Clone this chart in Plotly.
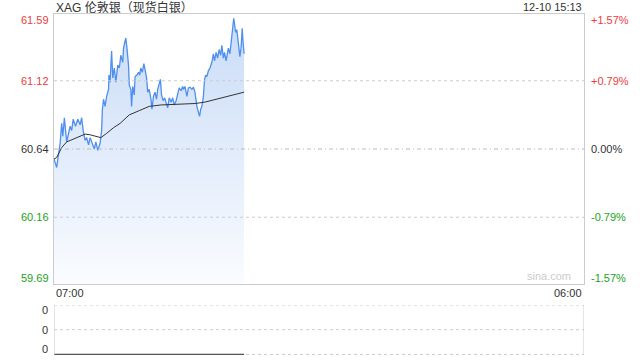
import plotly.graph_objects as go

# ---------------- data ----------------
title_text = "XAG 伦敦银（现货白银）"
stamp_text = "12-10 15:13"
prev_close = 60.64

# minutes since 07:00
price_t = [0, 3, 7, 11, 16, 20, 23, 27, 30, 33, 37, 42, 46, 50, 56, 62, 68, 72, 76, 81,
           85, 90, 94, 98, 105, 109, 114, 120, 124, 126, 129, 133, 137, 142, 143, 146, 148, 150, 153, 157,
           161, 166, 170, 174, 179, 181, 185, 187, 190, 194, 196, 200, 202, 205, 209, 211, 216, 220, 223, 226,
           230, 234, 237, 241, 244, 248, 253, 255, 259, 263, 267, 270, 274, 277, 280, 284, 288, 292, 296, 300,
           305, 309, 313, 318, 322, 326, 331, 335, 337, 341, 346, 350, 354, 359, 363, 367, 372, 376, 379, 382,
           385, 389, 392, 395, 398, 402, 406, 411, 415, 418, 422, 426, 430, 434, 437, 441, 444, 448, 452, 454,
           458, 463, 465, 468, 470, 473, 476, 480, 484, 487, 490, 492, 495]
price_v = [60.57, 60.55, 60.51, 60.59, 60.68, 60.82, 60.73, 60.86, 60.77, 60.69, 60.74, 60.80, 60.77, 60.85, 60.80, 60.85, 60.81, 60.86, 60.77, 60.70,
           60.72, 60.67, 60.72, 60.69, 60.64, 60.69, 60.63, 60.68, 60.77, 60.92, 60.99, 60.94, 61.01, 61.06, 61.16, 61.11, 61.21, 61.33, 61.14, 61.21,
           61.11, 61.23, 61.21, 61.30, 61.25, 61.35, 61.40, 61.42, 61.35, 61.23, 61.09, 61.06, 60.94, 61.08, 61.02, 61.15, 61.16, 61.18, 61.16, 61.21,
           61.18, 61.24, 61.20, 61.14, 61.04, 61.06, 60.98, 60.92, 61.01, 61.04, 60.99, 61.06, 61.10, 61.13, 61.02, 60.98, 61.00, 60.97, 60.93, 61.00,
           60.97, 61.00, 60.95, 60.98, 61.04, 61.07, 61.05, 61.08, 61.06, 61.08, 61.01, 61.07, 61.075, 61.06, 61.075, 61.04, 60.94, 60.89, 60.87, 60.92,
           60.94, 61.01, 61.13, 61.16, 61.15, 61.19, 61.21, 61.25, 61.31, 61.26, 61.32, 61.28, 61.34, 61.30, 61.37, 61.28, 61.32, 61.26, 61.32, 61.35,
           61.31, 61.42, 61.49, 61.56, 61.52, 61.46, 61.48, 61.40, 61.29, 61.35, 61.49, 61.40, 61.31]

avg_t = [0, 7, 20, 33, 42, 60, 68, 81, 94, 107, 122, 137, 155, 172, 196, 222, 248, 279, 309, 343, 367, 393, 428, 462, 495]
avg_v = [60.57, 60.58, 60.65, 60.69, 60.70, 60.72, 60.73, 60.745, 60.74, 60.73, 60.72, 60.75, 60.79, 60.82, 60.88,
         60.91, 60.94, 60.95, 60.955, 60.96, 60.96, 60.97, 60.995, 61.02, 61.04]

vol_t = [0, 495]
vol_v = [0, 0]

price_ticks = [61.59, 61.12, 60.64, 60.16, 59.69]
price_labels = ["61.59", "61.12", "60.64", "60.16", "59.69"]
pct_labels = ["+1.57%", "+0.79%", "0.00%", "-0.79%", "-1.57%"]
tick_colors = ["#f03c3c", "#f03c3c", "#333333", "#1aa31a", "#1aa31a"]

time_ticks = [0, 1380]
time_labels = ["07:00", "06:00"]

vol_ticks = [1, 0.5, 0]
vol_labels = ["0", "0", "0"]

# ---------------- figure ----------------
FONT = "Arial, Liberation Sans, Noto Sans CJK SC, sans-serif"
X0, X1 = 54 / 640, 584 / 640
Y_MAIN = [1 - 284 / 360, 1 - 14 / 360]
Y_VOL = [1 - 355 / 360, 1 - 305 / 360]

fig = go.Figure()

fig.add_trace(go.Scatter(
    x=price_t, y=price_v, mode="lines",
    line=dict(color="#4f8ff0", width=1.3),
    fill="tozeroy",
    fillgradient=dict(type="vertical", start=price_ticks[-1], stop=price_ticks[0],
                      colorscale=[[0, "rgb(250,252,255)"], [1, "rgb(200,219,247)"]]),
    xaxis="x", yaxis="y", hoverinfo="skip", showlegend=False))

fig.add_trace(go.Scatter(
    x=avg_t, y=avg_v, mode="lines",
    line=dict(color="#333333", width=1),
    xaxis="x", yaxis="y", hoverinfo="skip", showlegend=False))

fig.add_trace(go.Scatter(
    x=vol_t, y=vol_v, mode="lines",
    line=dict(color="#555555", width=1.5),
    xaxis="x2", yaxis="y2", hoverinfo="skip", showlegend=False))

fig.update_layout(
    width=640, height=360,
    margin=dict(l=0, r=0, t=0, b=0),
    paper_bgcolor="white", plot_bgcolor="rgba(0,0,0,0)",
    font=dict(family=FONT, size=11, color="#333333"),
    xaxis=dict(domain=[X0, X1], range=[0, 1380], showgrid=False, zeroline=False,
               showticklabels=False, showline=True, mirror=True, linecolor="#cccccc", linewidth=1,
               anchor="y", fixedrange=True),
    yaxis=dict(domain=Y_MAIN, range=[price_ticks[-1], price_ticks[0]], showgrid=False, zeroline=False,
               showticklabels=False, showline=True, mirror=True, linecolor="#cccccc", linewidth=1,
               anchor="x", fixedrange=True),
    xaxis2=dict(domain=[X0, X1], range=[0, 1380], showgrid=False, zeroline=False,
                showticklabels=False, showline=False, anchor="y2", fixedrange=True),
    yaxis2=dict(domain=Y_VOL, range=[-0.012, 1], showgrid=False, zeroline=False,
                showticklabels=False, showline=False, anchor="x2", fixedrange=True),
)

shapes = []
# main grid lines
for v in price_ticks[1:-1]:
    mid = abs(v - prev_close) < 1e-9
    shapes.append(dict(type="line", xref="x", yref="y", x0=0, x1=1380, y0=v, y1=v,
                       line=dict(color="#bbbbbb" if mid else "#cccccc", width=1,
                                 dash="4px,3px,1px,3px" if mid else "dot"), layer="above"))
# volume panel frame
shapes.append(dict(type="line", xref="x2", yref="y2 domain", x0=0, x1=0, y0=0, y1=1,
                   line=dict(color="#cccccc", width=1)))
shapes.append(dict(type="line", xref="x2", yref="y2 domain", x0=1380, x1=1380, y0=0, y1=1,
                   line=dict(color="#cccccc", width=1)))
for v in vol_ticks:
    shapes.append(dict(type="line", xref="x2", yref="y2", x0=0, x1=1380, y0=v, y1=v,
                       line=dict(color="#cccccc", width=1, dash="dot"), layer="below"))
fig.update_layout(shapes=shapes)

ann = []
ann.append(dict(text=title_text, xref="paper", yref="paper", x=X0, y=1 - 7 / 360,
                xanchor="left", yanchor="middle", showarrow=False,
                font=dict(size=12, color="#333333")))
ann.append(dict(text=stamp_text, xref="paper", yref="paper", x=X1, y=1 - 7 / 360,
                xanchor="right", yanchor="middle", showarrow=False,
                font=dict(size=11, color="#333333")))
n = len(price_ticks)
for i, (v, lab, pl, c) in enumerate(zip(price_ticks, price_labels, pct_labels, tick_colors)):
    ya = "top" if i == 0 else ("bottom" if i == n - 1 else "middle")
    ys = 2 if i == 0 else (-2 if i == n - 1 else 0)
    ann.append(dict(text=lab, xref="paper", yref="y", x=X0 - 3 / 640, y=v, yshift=ys,
                    xanchor="right", yanchor=ya, showarrow=False, font=dict(size=11, color=c)))
    ann.append(dict(text=pl, xref="paper", yref="y", x=X1 + 5 / 640, y=v, yshift=ys,
                    xanchor="left", yanchor=ya, showarrow=False, font=dict(size=11, color=c)))
for t, lab, xa in zip(time_ticks, time_labels, ["left", "right"]):
    ann.append(dict(text=lab, xref="x", yref="paper", x=t, y=1 - 293 / 360,
                    xanchor=xa, yanchor="middle", showarrow=False,
                    font=dict(size=11, color="#333333")))
nv = len(vol_ticks)
for i, (v, lab) in enumerate(zip(vol_ticks, vol_labels)):
    ya = "top" if i == 0 else ("bottom" if i == nv - 1 else "middle")
    ys = 3 if i == 0 else (-3 if i == nv - 1 else 0)
    ann.append(dict(text=lab, xref="paper", yref="y2", x=X0 - 4 / 640, y=v, yshift=ys,
                    xanchor="right", yanchor=ya, showarrow=False,
                    font=dict(size=11, color="#333333")))
ann.append(dict(text="sina.com", xref="paper", yref="y", x=X1 - 11 / 640, y=price_ticks[-1],
                xanchor="right", yanchor="bottom", showarrow=False,
                font=dict(size=11, color="#cccccc")))
fig.update_layout(annotations=ann)

fig.write_html("out.html", config={"displayModeBar": False})
